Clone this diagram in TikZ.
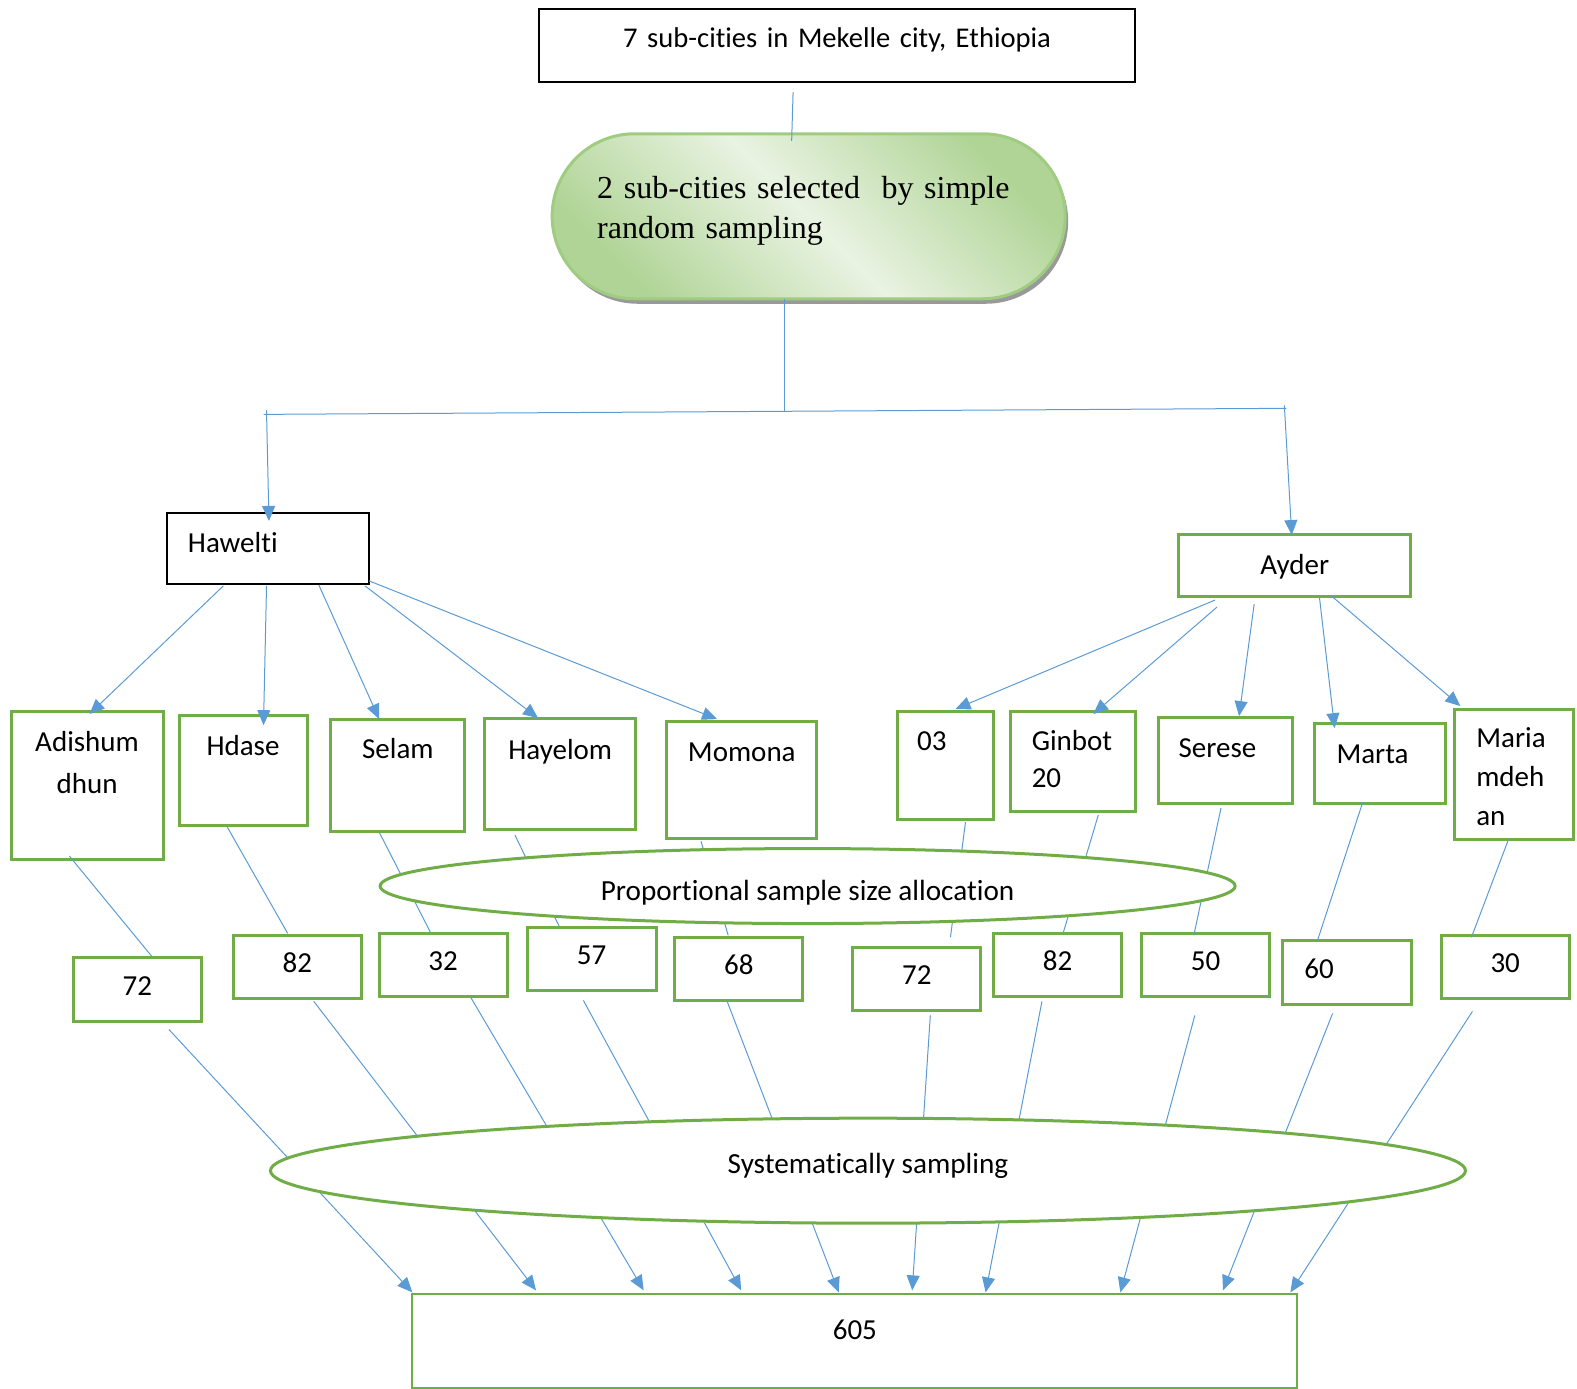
\documentclass[tikz,border=0pt]{standalone}
\usepackage{fontspec}
\setmainfont{Carlito}[Ligatures=NoCommon]
\newfontfamily\pillfont{Liberation Serif}
\usetikzlibrary{shapes}
\usetikzlibrary{positioning}
\usetikzlibrary{arrows.meta}
\usetikzlibrary{shadows}
\definecolor{linkblue}{RGB}{91,155,213}
\definecolor{boxgreen}{RGB}{112,173,71}
\definecolor{pillgreen}{RGB}{160,204,130}
\definecolor{pilldark}{RGB}{176,212,150}
\definecolor{pilllight}{RGB}{233,243,226}
\tikzset{
    link/.style = {draw=linkblue, line width=1pt},
    arr/.style = {link, -{Triangle[length=15pt,width=13pt]}},
    basebox/.style = {rectangle, anchor=north west, inner sep=0pt, outer sep=0pt, fill=white, font=\fontsize{29}{35}\selectfont},
    blackbox/.style = {basebox, draw=black, line width=2pt},
    greenbox/.style = {basebox, draw=boxgreen, line width=3pt},
    numbox/.style = {greenbox, align=center, text width=128pt, text height=37pt, text depth=26pt},
    oval/.style = {ellipse, draw=boxgreen, line width=3pt, fill=white, inner sep=0pt, font=\fontsize{29.2}{35}\selectfont},
    pill/.style = {basebox, draw=pillgreen, line width=3pt, rounded corners=82.5pt,
        left color=pilldark, right color=pilldark, middle color=pilllight, shading angle=135,
        drop shadow={shadow xshift=3pt, shadow yshift=-5pt, fill=black, opacity=0.4}}
}
\begin{document}
\begin{tikzpicture}[x=1.0057pt, y=-1.0057pt]
\useasboundingbox (0,0) rectangle (1568,1381);
%
\node[blackbox, align=center, text width=596pt, text height=38pt, text depth=35pt, font=\fontsize{28.6}{35}\selectfont] (top) at (536,9) {7 sub-cities in Mekelle city, Ethiopia};
\node[pill, align=left, inner xsep=45pt, text width=423pt, text height=65pt, text depth=100pt, font=\pillfont\fontsize{32}{40}\selectfont] (pill) at (549,133) {\mbox{2 sub-cities selected\ \ by simple}\\random sampling};
%
\node[blackbox, align=left, inner xsep=21pt, text width=160pt, text height=40pt, text depth=31pt] (haw) at (166,510) {Hawelti};
\node[greenbox, align=center, text width=232pt, text height=40pt, text depth=22pt] (ayd) at (1172,531) {Ayder};
%
\node[greenbox, align=center, text width=152pt, text height=40pt, text depth=108pt, font=\fontsize{29}{42}\selectfont] (adi) at (11,707) {Adishum\\dhun};
\node[greenbox, align=center, text width=128pt, text height=40pt, text depth=70pt] (hda) at (178,711) {Hdase};
\node[greenbox, align=center, text width=134pt, text height=39pt, text depth=73pt] (sel) at (329,715) {Selam};
\node[greenbox, align=center, text width=151pt, text height=41pt, text depth=70pt] (hay) at (482,714) {Hayelom};
\node[greenbox, align=center, text width=150pt, text height=40pt, text depth=77pt] (mom) at (663,717) {Momona};
\node[greenbox, align=left, inner xsep=20pt, text width=56pt, text height=39pt, text depth=69pt] (zer) at (892,707) {03};
\node[greenbox, align=left, inner xsep=21pt, text width=83pt, text height=39pt, text depth=61pt, font=\fontsize{29}{37}\selectfont] (gin) at (1005,707) {Ginbot\\20};
\node[greenbox, align=left, inner xsep=20pt, text width=94pt, text height=40pt, text depth=46pt] (ser) at (1152,713) {Serese};
\node[greenbox, align=left, inner xsep=22pt, text width=87pt, text height=40pt, text depth=40pt] (mar) at (1307,719) {Marta};
\node[greenbox, align=left, inner xsep=22pt, text width=75pt, text height=38pt, text depth=92pt, font=\fontsize{29}{39}\selectfont] (mde) at (1446,705) {Maria\\mdeh\\an};
%
\node[numbox, text height=38pt] (na) at (73,952) {72};
\node[numbox] (nb) at (232,930) {82};
\node[numbox] (nc) at (377,928) {32};
\node[numbox, text width=129pt] (nd) at (524,922) {57};
\node[numbox] (ne) at (671,932) {68};
\node[numbox] (nf) at (848,942) {72};
\node[numbox] (ng) at (988,928) {82};
\node[numbox] (nh) at (1135,928) {50};
\node[numbox, align=left, inner xsep=22pt, text width=85pt, text height=38pt] (ni) at (1275,935) {60};
\node[numbox] (nj) at (1433,930) {30};
%
\node[greenbox, line width=2pt, align=center, text width=885pt, text height=45pt, text depth=49pt] (sum) at (410,1287) {605};
%
\coordinate (busL) at (262,412);
\coordinate (busM) at (780,409);
\coordinate (busR) at (1279,406);
%
\draw[link] ([xshift=-44pt, yshift=-10pt]top.south) -- ([xshift=-17pt, yshift=-7pt]pill.north);
\draw[link] (pill.south -| busM) -- (busM);
\draw[link] (busL) -- (busR);
\draw[arr] ([xshift=3pt, yshift=4pt]busL) -- ([xshift=1pt, yshift=-8pt]haw.north);
\draw[arr] ([xshift=-2pt, yshift=3pt]busR) -- ([xshift=-3pt, yshift=-1pt]ayd.north);
%
\draw[arr] ([shift={(56,2)}]haw.south west) -- ([shift={(78,3)}]adi.north west);
\draw[arr] ([shift={(99,2)}]haw.south west) -- ([shift={(84,10)}]hda.north west);
\draw[arr] ([shift={(151,1)}]haw.south west) -- ([shift={(48,0)}]sel.north west);
\draw[arr] ([shift={(197,2)}]haw.south west) -- ([shift={(53,0)}]hay.north west);
\draw[arr] ([shift={(201,-3)}]haw.south west) -- ([shift={(50,-2)}]mom.north west);
\draw[arr] ([shift={(36,4)}]ayd.south west) -- ([shift={(58,-2)}]zer.north west);
\draw[arr] ([shift={(38,11)}]ayd.south west) -- ([shift={(82,3)}]gin.north west);
\draw[arr] ([shift={(75,8)}]ayd.south west) -- ([shift={(80,-1)}]ser.north west);
\draw[arr] ([shift={(140,2)}]ayd.south west) -- ([shift={(20,5)}]mar.north west);
\draw[arr] ([shift={(152,0)}]ayd.south west) -- ([shift={(6,-3)}]mde.north west);
%
\draw[link] ([shift={(58,-3)}]adi.south west) -- ([shift={(78,-1)}]na.north west);
\draw[link] ([shift={(48,2)}]hda.south west) -- ([shift={(54,-2)}]nb.north west);
\draw[link] ([shift={(48,1)}]sel.south west) -- ([shift={(51,-1)}]nc.north west);
\draw[link] ([shift={(30,6)}]hay.south west) -- ([shift={(32,-1)}]nd.north west);
\draw[link] ([shift={(34,3)}]mom.south west) -- ([shift={(53,-2)}]ne.north west);
\draw[link] ([shift={(68,3)}]zer.south west) -- ([shift={(97,-10)}]nf.north west);
\draw[link] ([shift={(87,4)}]gin.south west) -- ([shift={(69,0)}]ng.north west);
\draw[link] ([shift={(62,5)}]ser.south west) -- ([shift={(52,2)}]nh.north west);
\draw[link] ([shift={(48,-1)}]mar.south west) -- ([shift={(35,0)}]ni.north west);
\draw[link] ([shift={(54,0)}]mde.south west) -- ([shift={(30,2)}]nj.north west);
%
\draw[arr] ([shift={(95,8)}]na.south west) -- ([shift={(0,-2)}]sum.north west);
\draw[arr] ([shift={(80,3)}]nb.south west) -- ([shift={(123,-4)}]sum.north west);
\draw[arr] ([shift={(91,1)}]nc.south west) -- ([shift={(230,-4)}]sum.north west);
\draw[arr] ([shift={(56,10)}]nd.south west) -- ([shift={(327,-4)}]sum.north west);
\draw[arr] ([shift={(52,1)}]ne.south west) -- ([shift={(424,-2)}]sum.north west);
\draw[arr] ([shift={(77,5)}]nf.south west) -- ([shift={(497,-4)}]sum.north west);
\draw[arr] ([shift={(48,5)}]ng.south west) -- ([shift={(570,-2)}]sum.north west);
\draw[arr] ([shift={(53,19)}]nh.south west) -- ([shift={(704,-2)}]sum.north west);
\draw[arr] ([shift={(50,9)}]ni.south west) -- ([shift={(806,-4)}]sum.north west);
\draw[arr] ([shift={(31,13)}]nj.south west) -- ([shift={(873,-2)}]sum.north west);
%
\node[oval, minimum width=855pt, minimum height=75pt, text height=28pt, text depth=0pt] (prop) at (803,881) {Proportional sample size allocation};
\node[oval, minimum width=1195pt, minimum height=105pt, text height=20pt, text depth=14pt] (sys) at (863,1164) {Systematically sampling};

\end{tikzpicture}
\end{document}
